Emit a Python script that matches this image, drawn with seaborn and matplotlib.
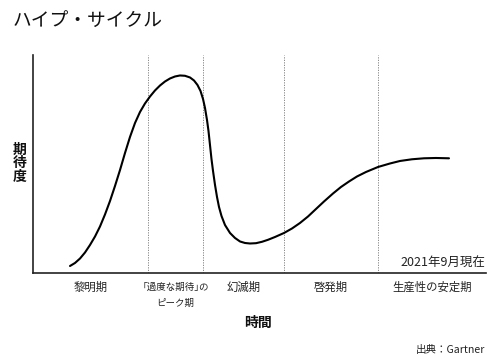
import matplotlib
matplotlib.use("Agg")
import matplotlib.pyplot as plt
import matplotlib.transforms as mtransforms
import pandas as pd
import seaborn as sns

# hype cycle curve (time 0-100, expectation 0-100)
time = [8.17, 9.27, 10.38, 11.48, 12.58, 13.69, 14.79, 15.89, 17.00, 18.10,
        19.21, 20.31, 21.41, 22.52, 23.62, 24.72, 25.83, 26.93, 28.04, 29.14,
        30.24, 31.35, 32.45, 33.55, 34.66, 35.54, 36.31, 36.98, 37.53, 37.97,
        38.41, 38.74, 39.07, 39.40, 39.74, 40.18, 40.62, 41.06, 41.61, 42.38,
        43.49, 44.59, 45.70, 46.80, 47.90, 49.23, 50.55, 51.88, 53.42, 55.41,
        57.17, 58.94, 60.71, 62.47, 64.24, 66.23, 67.99, 69.76, 71.52, 73.51,
        76.16, 78.81, 81.02, 83.66, 86.31, 88.96, 91.83]
expectation = [3.21, 4.59, 6.65, 9.40, 12.84, 16.74, 21.33, 26.83, 33.03, 39.91,
               47.25, 55.05, 62.39, 68.81, 73.85, 77.75, 80.96, 83.72, 86.01, 87.84,
               89.22, 90.14, 90.60, 90.46, 89.68, 88.30, 86.24, 83.49, 79.82, 75.69,
               70.18, 65.14, 58.72, 52.29, 46.79, 40.37, 34.86, 30.28, 26.15, 22.02,
               18.35, 16.06, 14.45, 13.76, 13.53, 13.67, 14.31, 15.23, 16.51, 18.35,
               20.41, 22.94, 25.92, 29.36, 32.80, 36.47, 39.45, 41.97, 44.27, 46.33,
               48.62, 50.23, 51.38, 52.16, 52.61, 52.75, 52.61]

# phase boundaries and names
boundaries = [0, 25.4, 37.5, 55.4, 76.2, 100]
phases = ["黎明期", "｢過度な期待｣の\nピーク期", "幻滅期", "啓発期", "生産性の安定期"]

df = pd.DataFrame({"time": time, "expectation": expectation})

sns.set_style("white")
plt.rcParams["font.family"] = ["Noto Sans CJK JP", "DejaVu Sans"]

fig = plt.figure(figsize=(5, 3.61), dpi=100)
ax = fig.add_axes([0.066, 0.2438, 0.906, 0.6039])

for b in boundaries[1:-1]:
    ax.axvline(b, color="#777777", lw=0.6, ls=(0, (1.5, 1.5)), zorder=1)

line = sns.lineplot(data=df, x="time", y="expectation", sort=False, color="black",
                    lw=1.5, ax=ax, zorder=3)
for l in ax.lines[-1:]:
    l.set_solid_joinstyle("round")
    l.set_solid_capstyle("round")

ax.set_xlim(0, 100)
ax.set_ylim(0, 100)
ax.set_xticks([])
ax.set_yticks([])
ax.set_xlabel("")
ax.set_ylabel("")
for s in ["top", "right"]:
    ax.spines[s].set_visible(False)
for s in ["left", "bottom"]:
    ax.spines[s].set_color("#222222")
    ax.spines[s].set_linewidth(1.2)

# phase labels under the axis
trans = mtransforms.blended_transform_factory(ax.transData, ax.transAxes)
for i, name in enumerate(phases):
    xc = (boundaries[i] + boundaries[i + 1]) / 2
    rows = name.split("\n")
    size = 8.2 if len(rows) == 1 else 6.8
    for j, row in enumerate(rows):
        ax.text(xc, -0.064 - j * 0.074, row, transform=trans, ha="center",
                va="center", fontsize=size, color="#222222")

ax.text(0.998, 0.046, "2021年9月現在", transform=ax.transAxes, ha="right",
        va="center", fontsize=9, color="#222222")

fig.text(0.026, 0.943, "ハイプ・サイクル", ha="left", va="center", fontsize=13.5,
         color="#111111")
fig.text(0.04, 0.548, "期\n待\n度", ha="center", va="center", fontsize=10,
         fontweight="bold", linespacing=0.95, color="#111111")
fig.text(0.516, 0.105, "時間", ha="center", va="center", fontsize=10,
         fontweight="bold", color="#111111")
fig.text(0.97, 0.030, "出典：Gartner", ha="right", va="center", fontsize=7.6,
         color="#222222")

fig.savefig("out.png", dpi=100)
